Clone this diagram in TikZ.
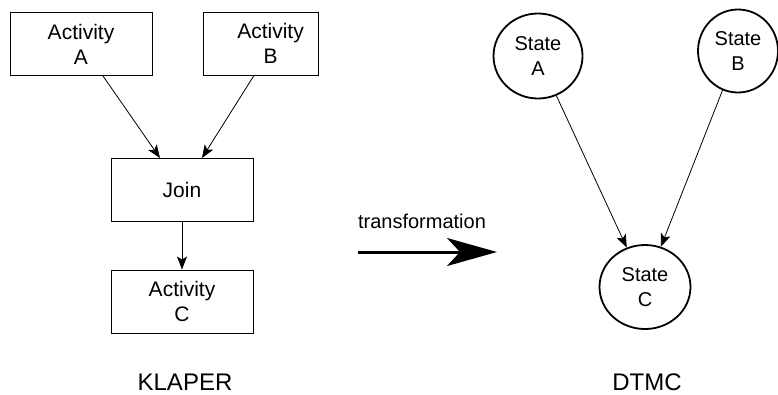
\documentclass[tikz,border=0pt]{standalone}
\usepackage{fontspec}
\setmainfont{Liberation Sans}
\usetikzlibrary{arrows.meta,shapes.geometric}
\begin{document}
\begin{tikzpicture}[x=1pt,y=-1pt,
  actbox/.style={draw,line width=0.9pt,minimum width=142pt,minimum height=63pt,
    inner sep=0pt,align=center,font=\fontsize{21}{25}\selectfont},
  statenode/.style={draw,line width=1.8pt,ellipse,minimum width=89pt,minimum height=85pt,
    inner sep=0pt,align=center,font=\fontsize{20}{25}\selectfont},
  flow/.style={line width=0.8pt,-{Stealth[length=13pt,width=10pt,inset=3pt]}},
  caption/.style={font=\fontsize{24}{28}\selectfont,anchor=base}]
\useasboundingbox (0,0) rectangle (778,394);

% KLAPER model
\node[actbox] (actA) at (81,44) {Activity\\A};
\node[actbox,minimum width=115pt,
  label={[align=center,font=\fontsize{21}{25}\selectfont,xshift=10pt]center:Activity\\B}]
  (actB) at (260.5,43.5) {};
\node[actbox] (join) at (182,190) {Join};
\node[actbox] (actC) at (182,301.5) {Activity\\C};

\draw[flow] ([xshift=22pt]actA.south) -- ([xshift=-22pt]join.north);
\draw[flow] ([xshift=-6.5pt]actB.south) -- ([xshift=20pt]join.north);
\draw[flow] (join.south) -- (actC.north);

\node[caption] (klaper) at (185,390) {KLAPER};

% transformation arrow
\coordinate (tstart) at (358,252);
\coordinate (tend) at (497,252);
\draw[line width=3pt,-{Stealth[length=50pt,width=28pt,inset=13pt]}] (tstart) -- (tend);
\node[font=\fontsize{20}{24}\selectfont,anchor=base] (tlabel) at (422,228) {transformation};

% DTMC model
\node[statenode] (sA) at (538,56) {State\\A};
\node[statenode,minimum width=80pt,minimum height=83pt] (sB) at (738,51) {State\\B};
\node[statenode,minimum width=91pt,minimum height=84pt] (sC) at (645,287) {State\\C};

\draw[flow] (sA) -- (sC);
\draw[flow] (sB) -- (sC);

\node[caption] (dtmc) at (647,390) {DTMC};
\end{tikzpicture}
\end{document}
